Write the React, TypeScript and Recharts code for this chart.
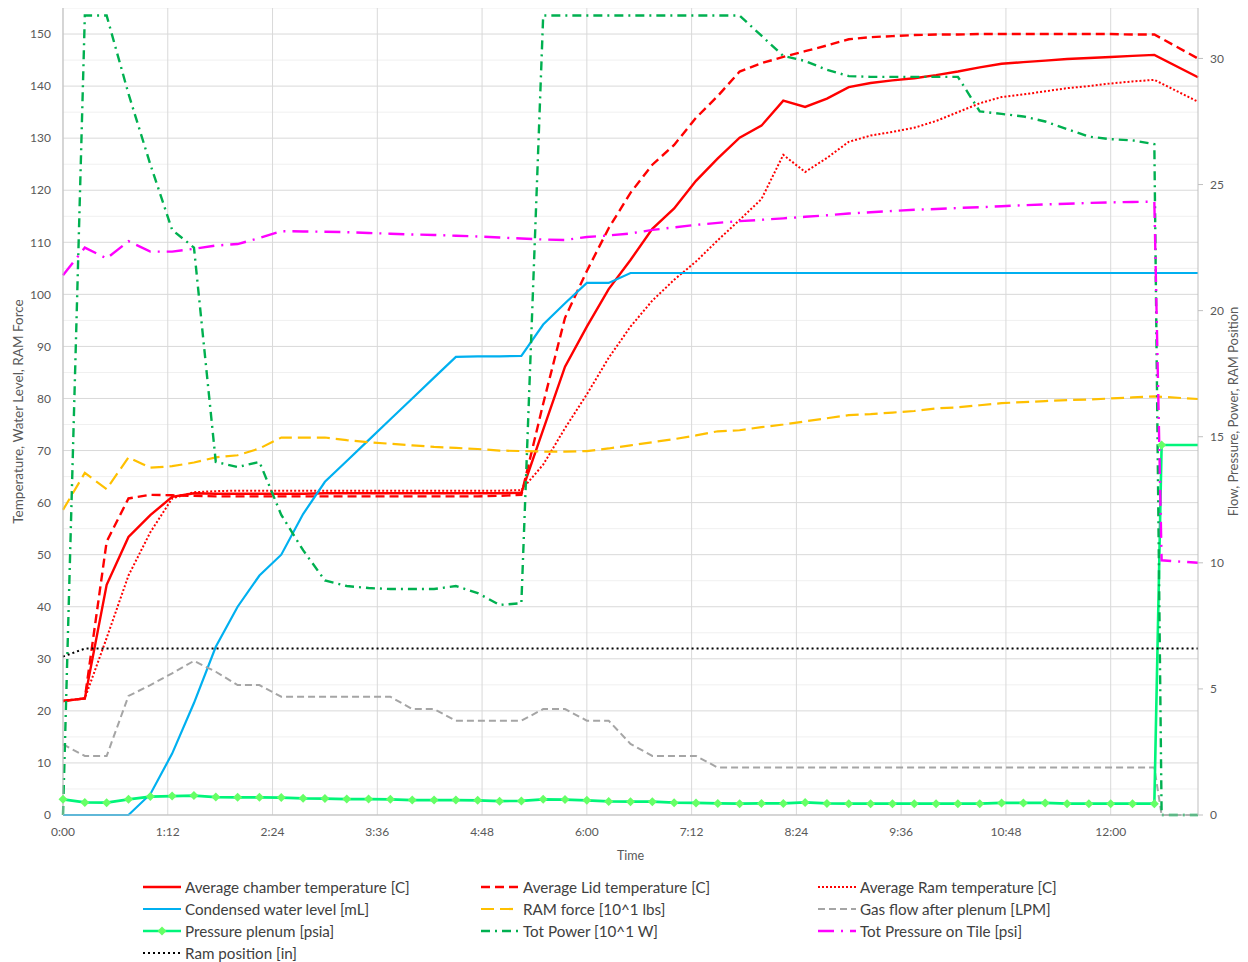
import React from "react";
import { LineChart, Line, XAxis, YAxis, CartesianGrid } from "recharts";

// time in seconds since start
const times = [0, 15, 30, 45, 60, 75, 90, 105, 120, 135, 150, 165, 180, 195, 210, 225, 240, 255, 270, 285, 300, 315, 330, 345, 360, 375, 390, 405, 420, 435, 450, 465, 480, 495, 510, 525, 540, 555, 570, 585, 600, 615, 630, 645, 660, 675, 690, 705, 720, 735, 750, 755, 780];

// left axis series
const chamberTemp = [21.9, 22.4, 44.2, 53.4, 57.6, 61.1, 61.8, 61.7, 61.7, 61.7, 61.7, 61.7, 61.8, 61.8, 61.8, 61.8, 61.8, 61.8, 61.8, 61.8, 61.8, 61.9, 74.0, 86.1, 93.8, 101.0, 106.6, 112.6, 116.5, 121.8, 126.1, 130.1, 132.4, 137.2, 136.0, 137.6, 139.8, 140.6, 141.1, 141.5, 142.1, 142.8, 143.6, 144.3, 144.6, 144.9, 145.2, 145.4, 145.6, 145.8, 146.0, null, 141.7];
const lidTemp = [21.9, 22.4, 52.5, 60.8, 61.5, 61.4, 61.3, 61.2, 61.2, 61.2, 61.2, 61.2, 61.2, 61.2, 61.2, 61.2, 61.2, 61.2, 61.2, 61.2, 61.3, 61.5, 79.0, 95.5, 104.5, 112.7, 119.5, 124.9, 128.7, 133.9, 138.1, 142.8, 144.4, 145.6, 146.7, 147.8, 149.0, 149.4, 149.6, 149.8, 149.9, 149.9, 150.0, 150.0, 150.0, 150.0, 150.0, 150.0, 150.0, 149.9, 149.9, null, 145.3];
const ramTemp = [21.9, 22.4, 34.0, 46.0, 54.3, 60.8, 62.0, 62.2, 62.3, 62.3, 62.3, 62.3, 62.3, 62.3, 62.3, 62.3, 62.3, 62.3, 62.3, 62.3, 62.3, 62.4, 67.3, 74.3, 80.8, 87.8, 93.8, 98.8, 102.8, 106.3, 110.4, 114.3, 118.3, 126.8, 123.5, 126.2, 129.3, 130.5, 131.2, 132.0, 133.3, 135.0, 136.7, 137.9, 138.4, 139.0, 139.6, 140.0, 140.5, 140.9, 141.2, null, 137.0];
const waterLevel = [0, 0, 0, 0, 4.0, 11.8, 21.5, 32.3, 40.0, 46.0, 50.0, 57.8, 64.0, 68.0, 72.0, 76.0, 80.0, 84.0, 88.0, 88.1, 88.1, 88.2, 94.2, 98.3, 102.2, 102.2, 104.1, 104.1, 104.1, 104.1, 104.1, 104.1, 104.1, 104.1, 104.1, 104.1, 104.1, 104.1, 104.1, 104.1, 104.1, 104.1, 104.1, 104.1, 104.1, 104.1, 104.1, 104.1, 104.1, 104.1, 104.1, 104.1, 104.1];
const ramForce = [58.6, 65.7, 62.6, 68.7, 66.7, 67.0, 67.7, 68.7, 69.1, 70.4, 72.5, 72.5, 72.5, 72.0, 71.6, 71.3, 71.0, 70.7, 70.5, 70.3, 70.0, 69.9, 69.8, 69.8, 69.9, 70.4, 71.0, 71.6, 72.2, 72.9, 73.7, 73.9, 74.5, 75.0, 75.6, 76.2, 76.8, 77.0, 77.3, 77.6, 78.1, 78.3, 78.7, 79.1, 79.3, 79.5, 79.7, 79.8, 80.0, 80.2, 80.4, null, 79.9];

// right axis series
const gasFlow = [2.8, 2.34, 2.34, 4.72, 5.15, 5.62, 6.11, 5.68, 5.15, 5.15, 4.69, 4.69, 4.69, 4.69, 4.69, 4.69, 4.2, 4.2, 3.74, 3.74, 3.74, 3.74, 4.2, 4.2, 3.74, 3.74, 2.82, 2.34, 2.34, 2.34, 1.88, 1.88, 1.88, 1.88, 1.88, 1.88, 1.88, 1.88, 1.88, 1.88, 1.88, 1.88, 1.88, 1.88, 1.88, 1.88, 1.88, 1.88, 1.88, 1.88, 1.88, 0, 0];
const plenumPressure = [0.62, 0.5, 0.49, 0.62, 0.73, 0.75, 0.77, 0.71, 0.7, 0.7, 0.69, 0.66, 0.65, 0.63, 0.63, 0.62, 0.59, 0.59, 0.59, 0.58, 0.55, 0.56, 0.62, 0.61, 0.58, 0.54, 0.53, 0.53, 0.49, 0.48, 0.46, 0.45, 0.46, 0.46, 0.5, 0.46, 0.45, 0.45, 0.45, 0.45, 0.45, 0.45, 0.45, 0.48, 0.48, 0.48, 0.45, 0.45, 0.45, 0.45, 0.45, 14.67, 14.67];
const totPower = [0, 31.7, 31.7, 28.6, 25.8, 23.2, 22.5, 14.0, 13.8, 14.0, 11.9, 10.5, 9.3, 9.08, 9.0, 8.96, 8.96, 8.96, 9.08, 8.8, 8.33, 8.4, 31.7, 31.7, 31.7, 31.7, 31.7, 31.7, 31.7, 31.7, 31.7, 31.7, 30.9, 30.1, 29.9, 29.55, 29.3, 29.27, 29.27, 29.27, 29.27, 29.27, 27.9, 27.8, 27.7, 27.5, 27.2, 26.9, 26.8, 26.75, 26.6, 0, 0];
const tilePressure = [21.4, 22.5, 22.07, 22.75, 22.34, 22.34, 22.45, 22.58, 22.64, 22.88, 23.15, 23.14, 23.13, 23.11, 23.08, 23.05, 23.02, 23.0, 22.97, 22.94, 22.9, 22.86, 22.82, 22.8, 22.92, 22.98, 23.06, 23.2, 23.3, 23.4, 23.48, 23.55, 23.6, 23.66, 23.72, 23.78, 23.85, 23.9, 23.95, 24.0, 24.03, 24.07, 24.1, 24.14, 24.18, 24.21, 24.24, 24.27, 24.29, 24.31, 24.32, 10.1, 10.0];
const ramPosition = [6.28, 6.6, 6.6, 6.6, 6.6, 6.6, 6.6, 6.6, 6.6, 6.6, 6.6, 6.6, 6.6, 6.6, 6.6, 6.6, 6.6, 6.6, 6.6, 6.6, 6.6, 6.6, 6.6, 6.6, 6.6, 6.6, 6.6, 6.6, 6.6, 6.6, 6.6, 6.6, 6.6, 6.6, 6.6, 6.6, 6.6, 6.6, 6.6, 6.6, 6.6, 6.6, 6.6, 6.6, 6.6, 6.6, 6.6, 6.6, 6.6, 6.6, 6.6, 6.6, 6.6];

const timeTicks = [0, 72, 144, 216, 288, 360, 432, 504, 576, 648, 720];
const leftTicks = [0, 10, 20, 30, 40, 50, 60, 70, 80, 90, 100, 110, 120, 130, 140, 150];
const leftMinor = [5, 15, 25, 35, 45, 55, 65, 75, 85, 95, 105, 115, 125, 135, 145, 155];
const rightTicks = [0, 5, 10, 15, 20, 25, 30];

const data = times.map((t, i) => ({
  t,
  chamber: chamberTemp[i],
  lid: lidTemp[i],
  ram: ramTemp[i],
  water: waterLevel[i],
  force: ramForce[i],
  gas: gasFlow[i],
  plenum: plenumPressure[i],
  power: totPower[i],
  tile: tilePressure[i],
  pos: ramPosition[i],
}));

const fmtTime = (s: number) => `${Math.floor(s / 60)}:${String(s % 60).padStart(2, "0")}`;

const FONT = "Lato, 'Open Sans', sans-serif";
const tickStyle = { fill: "#595959", fontSize: 12, fontFamily: FONT };
const titleStyle = { textAnchor: "middle", fill: "#595959", fontSize: 13.5, fontFamily: FONT } as const;

const series = [
  { key: "chamber", name: "Average chamber temperature [C]", color: "#ff0000", dash: undefined, width: 2.4, axis: "left" },
  { key: "lid", name: "Average Lid temperature [C]", color: "#ff0000", dash: "9 5", width: 2.4, axis: "left" },
  { key: "ram", name: "Average Ram temperature [C]", color: "#ff0000", dash: "2 2", width: 2, axis: "left" },
  { key: "water", name: "Condensed water level [mL]", color: "#00b0f0", dash: undefined, width: 2.2, axis: "left" },
  { key: "force", name: "RAM force [10^1 lbs]", color: "#ffc000", dash: "13 6", width: 2.2, axis: "left" },
  { key: "gas", name: "Gas flow after plenum [LPM]", color: "#a5a5a5", dash: "7 4", width: 2, axis: "right" },
  { key: "plenum", name: "Pressure plenum [psia]", color: "#00f57a", dash: undefined, width: 2.6, axis: "right" },
  { key: "power", name: "Tot Power [10^1 W]", color: "#00b050", dash: "9 5 2 5", width: 2.4, axis: "right" },
  { key: "tile", name: "Tot Pressure on Tile [psi]", color: "#ff00ff", dash: "16 7 2 7", width: 2.4, axis: "right" },
  { key: "pos", name: "Ram position [in]", color: "#000000", dash: "2 3", width: 2, axis: "right" },
];

const Diamond = (props: any) => {
  const { cx, cy, index } = props;
  if (cx == null || cy == null || index === times.length - 1) return <g key={`d${index}`} />;
  const r = 4.5;
  return (
    <path
      key={`d${index}`}
      d={`M${cx},${cy - r}L${cx + r},${cy}L${cx},${cy + r}L${cx - r},${cy}Z`}
      fill="#66ff66"
    />
  );
};

const LegendIcon = ({ s }: { s: (typeof series)[number] }) => (
  <svg width={38} height={10} style={{ display: "block" }}>
    <line x1={0} y1={5} x2={38} y2={5} stroke={s.color} strokeWidth={s.width} strokeDasharray={s.dash} />
    {s.key === "plenum" && <path d="M19,0.5L23.5,5L19,9.5L14.5,5Z" fill="#66ff66" />}
  </svg>
);

const legendCols = [135, 473, 810];
const legendRows = [879, 901, 923, 945];

const App = () => (
  <div style={{ position: "relative", width: 1232, height: 954, fontFamily: FONT }}>
    <LineChart width={1232} height={857} data={data} margin={{ top: 0, right: 0, bottom: 0, left: 0 }}>
      <CartesianGrid yAxisId="left" horizontalValues={leftMinor} vertical={false} stroke="#f0f0f0" strokeWidth={1} />
      <CartesianGrid yAxisId="left" horizontalValues={leftTicks} verticalValues={timeTicks} stroke="#d9d9d9" strokeWidth={1} />
      <XAxis
        dataKey="t"
        type="number"
        domain={[0, 780]}
        ticks={timeTicks}
        tickFormatter={fmtTime}
        height={50}
        tick={tickStyle}
        tickLine={false}
        tickSize={0}
        tickMargin={12}
        axisLine={{ stroke: "#bfbfbf" }}
        label={{ value: "Time", position: "insideBottom", offset: 5, style: { fill: "#595959", fontSize: 12.5, fontFamily: FONT } }}
      />
      <YAxis
        yAxisId="left"
        domain={[0, 155]}
        ticks={leftTicks}
        width={55}
        tick={tickStyle}
        tickLine={false}
        tickSize={0}
        tickMargin={12}
        axisLine={{ stroke: "#bfbfbf" }}
        label={{
          value: "Temperature,  Water Level, RAM Force",
          angle: -90,
          position: "insideLeft",
          offset: 10,
          style: titleStyle,
        }}
      />
      <YAxis
        yAxisId="right"
        orientation="right"
        domain={[0, 32]}
        ticks={rightTicks}
        width={42}
        tick={tickStyle}
        tickLine={{ stroke: "#bfbfbf" }}
        tickSize={5}
        tickMargin={7}
        axisLine={{ stroke: "#bfbfbf" }}
        label={{
          value: "Flow, Pressure, Power, RAM Position",
          angle: -90,
          position: "insideRight",
          offset: 7,
          style: { ...titleStyle, fontSize: 13 },
        }}
      />
      {series.map((s) => (
        <Line
          key={s.key}
          yAxisId={s.axis}
          dataKey={s.key}
          name={s.name}
          type="linear"
          stroke={s.color}
          strokeWidth={s.width}
          strokeDasharray={s.dash}
          dot={s.key === "plenum" ? Diamond : false}
          activeDot={false}
          connectNulls
          isAnimationActive={false}
        />
      ))}
    </LineChart>
    {series.map((s, i) => (
      <div
        key={s.key}
        style={{
          position: "absolute",
          left: legendCols[i % 3],
          top: legendRows[Math.floor(i / 3)] - 8,
          height: 16,
          lineHeight: "16px",
          display: "flex",
          alignItems: "center",
          gap: 4,
          whiteSpace: "nowrap",
          color: "#404040",
          fontSize: 15.2,
        }}
      >
        <LegendIcon s={s} />
        <span>{s.name}</span>
      </div>
    ))}
  </div>
);

export default App;
